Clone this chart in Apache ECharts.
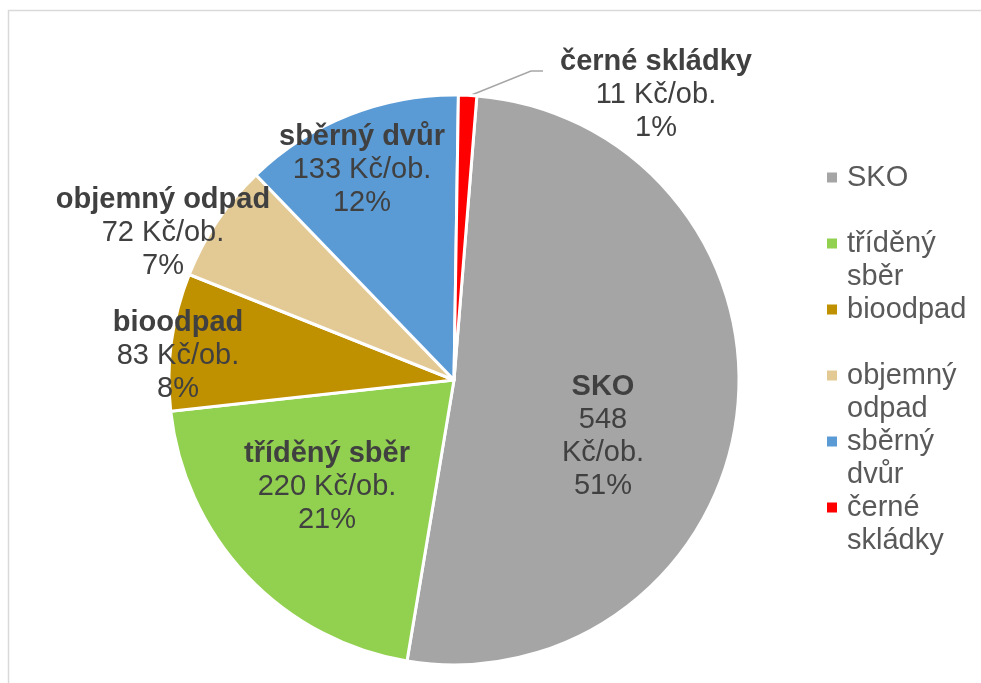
<!DOCTYPE html>
<html>
<head>
  <meta charset="utf-8">
  <title>Náklady na odpady</title>
  <script src="https://cdn.jsdelivr.net/npm/echarts@6/dist/echarts.min.js"></script>
  <style>
    html, body { margin: 0; padding: 0; background: #fff; }
    #chart { width: 981px; height: 683px; }
  </style>
</head>
<body>
  <div id="chart"></div>
  <script>
    const categories = ['SKO', 'tříděný sběr', 'bioodpad', 'objemný odpad', 'sběrný dvůr', 'černé skládky'];
    const values = [548, 220, 83, 72, 133, 11];
    const legendLabels = ['SKO', 'tříděný\nsběr', 'bioodpad', 'objemný\nodpad', 'sběrný\ndvůr', 'černé\nskládky'];
    const colors = ['#a5a5a5', '#92d050', '#bf9000', '#e3ca95', '#5b9bd5', '#ff0000'];

    // where each label sits (Excel had them dragged around by hand)
    const labelPos = [[603, 436], [327, 487], [178, 356], [163, 233], [362, 170], [656, 95]];

    let rich = {
      b: { fontWeight: 'bold', color: '#404040', fontSize: 29, lineHeight: 33 },
      n: { color: '#404040', fontSize: 29, lineHeight: 33 },
      g: { width: 10, lineHeight: 33 },
      g2: { width: 20, lineHeight: 33 },
      t: { color: '#595959', fontSize: 29, lineHeight: 33 }
    };
    colors.forEach(function (c, i) {
      rich['m' + i] = { width: 10, height: 10, backgroundColor: c };
    });

    let data = categories.map(function (name, i) {
      let item = { name: name, value: values[i], itemStyle: { color: colors[i] } };
      if (i === 5) {
        item.label = { position: 'outside' };
        item.labelLine = { show: true };
      }
      return item;
    });

    let myChart = echarts.init(document.getElementById('chart'));
    let option = {
      animation: false,
      graphic: [{
        type: 'rect',
        shape: { x: 8.5, y: 10.5, width: 1000, height: 700 },
        style: { fill: 'none', stroke: '#d9d9d9', lineWidth: 1.5 },
        silent: true
      }],
      legend: {
        orient: 'vertical',
        left: 816,
        top: 156,
        itemGap: 0,
        itemWidth: 0,
        itemHeight: 0,
        data: categories,
        formatter: function (name) {
          let i = categories.indexOf(name);
          let lines = legendLabels[i].split('\n');
          return '{m' + i + '|}{g|}{t|' + lines[0] + '}\n{g2|}{t|' + (lines[1] || ' ') + '}';
        },
        textStyle: { fontFamily: 'Liberation Sans', fontSize: 29, lineHeight: 33, rich: rich }
      },
      series: [{
        type: 'pie',
        center: [454, 380],
        radius: 285,
        startAngle: 85.4,
        clockwise: true,
        itemStyle: { borderColor: '#ffffff', borderWidth: 3 },
        label: {
          show: true,
          position: 'inside',
          align: 'center',
          verticalAlign: 'middle',
          fontFamily: 'Liberation Sans',
          formatter: function (p) {
            let pct = Math.round(p.percent) + '%';
            if (p.dataIndex === 0)
              return '{b|' + p.name + '}\n{n|' + p.value + '}\n{n|Kč/ob.}\n{n|' + pct + '}';
            return '{b|' + p.name + '}\n{n|' + p.value + ' Kč/ob.}\n{n|' + pct + '}';
          },
          rich: rich
        },
        labelLine: { show: false, lineStyle: { color: '#a6a6a6', width: 1.5 } },
        labelLayout: function (params) {
          let pos = labelPos[params.dataIndex];
          let res = { x: pos[0], y: pos[1], align: 'center', verticalAlign: 'middle' };
          if (params.dataIndex === 5)
            res.labelLinePoints = [[469, 96], [531, 71], [543, 71]];
          return res;
        },
        data: data
      }]
    };
    myChart.setOption(option);
  </script>
</body>
</html>
